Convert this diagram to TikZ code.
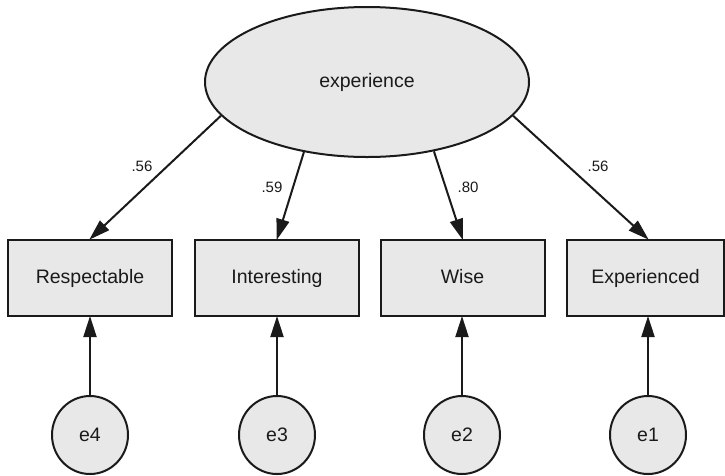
\documentclass[tikz,border=0pt]{standalone}
\usepackage{fontspec}
\setmainfont{Liberation Sans}
\usetikzlibrary{shapes.geometric,arrows.meta}

\definecolor{shade}{HTML}{E8E8E8}
\definecolor{ink}{HTML}{1A1A1A}

\tikzset{
  latent/.style={ellipse, draw=ink, fill=shade, line width=2pt, inner sep=0pt,
    font=\fontsize{19.5}{23}\selectfont, text=ink},
  observed/.style={rectangle, draw=ink, fill=shade, line width=2pt, inner sep=0pt,
    minimum width=164pt, minimum height=76pt, font=\fontsize{19.5}{23}\selectfont,
    text=ink, text height=14pt, text depth=4pt},
  errterm/.style={ellipse, draw=ink, fill=shade, line width=2pt, inner sep=0pt,
    minimum width=76pt, minimum height=78pt, font=\fontsize{19.5}{23}\selectfont, text=ink},
  path/.style={draw=ink, line width=2pt, -{Triangle[length=21pt,width=13pt]}, shorten >=-1pt},
  coef/.style={font=\fontsize{15}{18}\selectfont, text=ink}
}

\begin{document}
\begin{tikzpicture}[x=1pt, y=-1pt]
  \useasboundingbox (0,0) rectangle (725,475);

  % latent factor
  \node[latent, minimum width=324pt, minimum height=150pt] (exp) at (367,82) {experience};

  % indicators
  \node[observed] (resp) at (90,278)  {Respectable};
  \node[observed] (intr) at (277,278) {Interesting};
  \node[observed] (wise) at (462.5,278) {Wise};
  \node[observed, minimum width=157pt] (expd) at (645.5,278) {Experienced};

  % error terms
  \node[errterm] (e4) at (90,435)  {e4};
  \node[errterm] (e3) at (277,435) {e3};
  \node[errterm] (e2) at (462,435) {e2};
  \node[errterm] (e1) at (648,435) {e1};

  % loadings
  \draw[path] (exp.193) -- (resp.north);
  \draw[path] (exp.228) -- (intr.north);
  \draw[path] (exp.314) -- (wise.north);
  \draw[path] (exp.347.5) -- ([xshift=2.5pt]expd.north);

  % error paths
  \draw[path] (e4.north) -- (resp.south);
  \draw[path] (e3.north) -- (intr.south);
  \draw[path] (e2.north) -- ([xshift=-0.5pt]wise.south);
  \draw[path] (e1.north) -- ([xshift=2.5pt]expd.south);

  % coefficients
  \node[coef] (c1) at (142,166) {.56};
  \node[coef] (c2) at (272,187) {.59};
  \node[coef] (c3) at (468,187) {.80};
  \node[coef] (c4) at (598,166) {.56};
\end{tikzpicture}
\end{document}
